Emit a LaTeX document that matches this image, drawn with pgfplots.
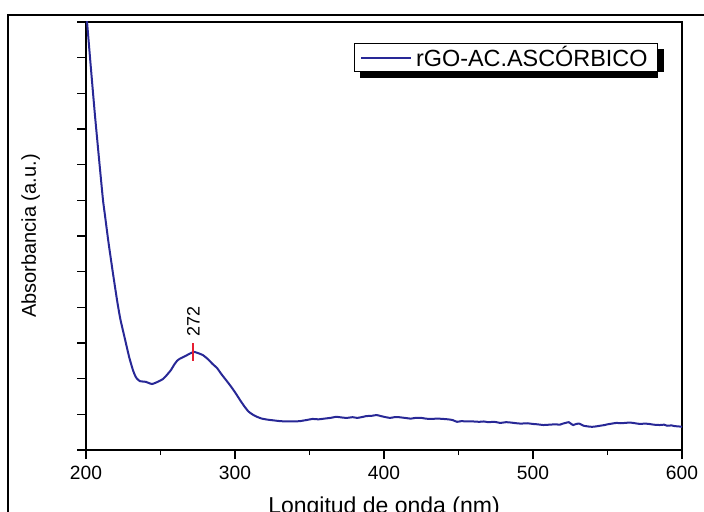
\documentclass[border=0pt]{standalone}
\usepackage{pgfplots}
\pgfplotsset{compat=1.18}
\usepackage{fontspec}
\setmainfont{Liberation Sans}
\definecolor{curve}{RGB}{40,40,150}
\definecolor{mark272}{RGB}{230,30,50}
\begin{document}
\begin{tikzpicture}
\begin{axis}[
  at={(0,0)}, anchor=south west,
  scale only axis, width=298pt, height=214pt,
  xmin=200, xmax=600, ymin=0, ymax=12,
  xtick={200,300,400,500,600},
  minor xtick={250,350,450,550},
  ytick={0,1,...,12},
  yticklabels={},
  tick align=outside,
  tick pos=left,
  major tick length=4.5pt,
  minor tick length=2.5pt,
  every tick/.style={black, line width=0.8pt},
  axis line style={line width=0.8pt},
  /pgf/number format/assume math mode=true,
  /pgf/number format/1000 sep={},
  xticklabel style={font=\fontsize{9.6}{10}\selectfont, inner sep=0pt, anchor=north, yshift=-3.5pt},
  xlabel={Longitud de onda (nm)},
  xlabel style={font=\fontsize{11.5}{12}\selectfont, at={(axis description cs:0.5,0)}, anchor=north, inner sep=0pt, yshift=-23pt},
  ylabel={Absorbancia (a.u.)},
  ylabel style={font=\fontsize{10}{11}\selectfont, at={(axis description cs:0,0.5)}, anchor=north, inner sep=0pt, yshift=32.5pt},
  legend style={at={(axis description cs:0.9597,0.951)}, anchor=north east,
    draw=black, line width=0.5pt, fill=white,
    inner xsep=3pt, inner ysep=0.3pt,
    font=\fontsize{11.7}{12}\selectfont,
    nodes={inner xsep=2pt, inner ysep=1pt},
    name=leg},
  legend image code/.code={\draw[#1] (0pt,0pt) -- (25pt,0pt);},
  clip=true,
]
\addplot[curve, line width=1pt, smooth, tension=0.3] table {
x y
200 12.30
200.7 12.00
203 10.85
206 9.39
209 8.05
211.4 7.01
212.7 6.59
215 5.85
218 4.98
220.8 4.21
223 3.68
226.2 3.10
229 2.60
231.5 2.24
233 2.08
234.2 2.00
236.2 1.93
238 1.92
240.3 1.91
242 1.88
244.3 1.85
247 1.89
250 1.95
251.7 1.99
254 2.09
257 2.24
259 2.38
261.1 2.50
263 2.56
265 2.60
267.8 2.66
270 2.71
272.5 2.75
275 2.72
278.5 2.66
282 2.54
285 2.41
287.9 2.30
291 2.12
294 1.96
296.6 1.82
300 1.62
303.4 1.40
306 1.24
309 1.08
312 0.99
314.8 0.93
318 0.88
322 0.85
326 0.83
330 0.81
335 0.80
340 0.80
343.6 0.81
348 0.84
352 0.87
356 0.86
360 0.88
364 0.90
368 0.93
372 0.91
375 0.90
379 0.92
382 0.90
386 0.93
388 0.95
392 0.96
395 0.98
398 0.95
400 0.93
404 0.90
407 0.92
410 0.92
414 0.90
418 0.88
421 0.90
425 0.90
428 0.88
431 0.87
436 0.88
440 0.87
443 0.86
446 0.84
449 0.79
452 0.81
455 0.80
460 0.80
464 0.79
467 0.80
470 0.78
474 0.79
478 0.76
482 0.78
485 0.77
489 0.75
492 0.74
496 0.75
500 0.73
503 0.72
507 0.70
511 0.71
515 0.72
518 0.71
520 0.74
522 0.76
524 0.78
526 0.72
527 0.70
529 0.73
531 0.74
533 0.70
534 0.68
537 0.66
539.6 0.65
542 0.66
545 0.68
548 0.70
550 0.72
553 0.74
556 0.76
559 0.75
562 0.76
565 0.77
567 0.76
570 0.74
572 0.73
575 0.74
578 0.73
581 0.71
585 0.70
588 0.71
590 0.68
593 0.69
595 0.67
598 0.66
600 0.65
};
\addlegendentry{rGO-AC.ASCÓRBICO}
\addplot[mark272, line width=0.8pt, forget plot] coordinates {(272,2.50) (272,3.0)};
\node[rotate=90, anchor=west, inner sep=3pt, font=\fontsize{9}{9}\selectfont] at (axis cs:272,3.0) {272};
\end{axis}
\fill[black] ([xshift=3pt,yshift=-3pt]leg.south west) rectangle ([yshift=0.25pt]leg.south east);
\fill[black] ([xshift=-0.25pt]leg.south east) rectangle ([xshift=3pt,yshift=-3pt]leg.north east);
\draw[line width=1pt] (-39pt,-60pt) rectangle (330pt,217.5pt);
\pgfresetboundingbox
\useasboundingbox (-43pt,-31pt) rectangle (309pt,225pt);
\end{tikzpicture}
\end{document}
